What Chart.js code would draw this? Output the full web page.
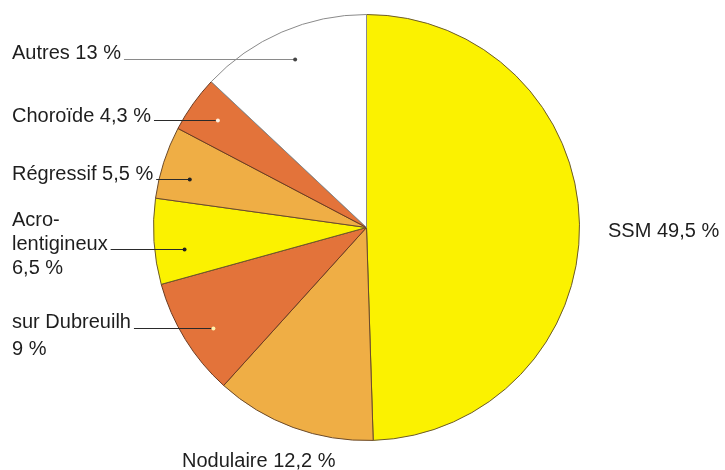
<!DOCTYPE html>
<html>
<head>
<meta charset="utf-8">
<script src="https://cdn.jsdelivr.net/npm/chart.js@4/dist/chart.umd.min.js"></script>
<style>
  html, body { margin: 0; padding: 0; background: #ffffff; }
  #wrap { width: 725px; height: 470px; position: relative; }
</style>
</head>
<body>
<div id="wrap"><canvas id="c" width="725" height="470"></canvas></div>
<script>
// Répartition des types de mélanome (%)
const categories = ['SSM', 'Nodulaire', 'sur Dubreuilh', 'Acro-lentigineux', 'Régressif', 'Choroïde', 'Autres'];
const shares = [49.5, 12.2, 9, 6.5, 5.5, 4.3, 13];
const shareLabels = ['49,5 %', '12,2 %', '9 %', '6,5 %', '5,5 %', '4,3 %', '13 %'];
const sliceColors = ['#fbf200', '#efae45', '#e3733a', '#fbf200', '#efae45', '#e3733a', '#ffffff'];

// Text blocks for each slice (lines drawn top to bottom)
const labelLines = [
  ['SSM ' + shareLabels[0]],
  ['Nodulaire ' + shareLabels[1]],
  ['sur Dubreuilh', shareLabels[2]],
  ['Acro-', 'lentigineux', shareLabels[3]],
  ['Régressif ' + shareLabels[4]],
  ['Choroïde ' + shareLabels[5]],
  ['Autres ' + shareLabels[6]]
];

// Label placement: text x, line baselines, which line carries the leader (null = none),
// where the leader dot sits along the slice (0 = slice start, 1 = slice end)
const labelPlacement = [
  { x: 608, baselines: [237], leaderLine: null },
  { x: 182, baselines: [467], leaderLine: null },
  { x: 12, baselines: [328, 355], leaderLine: 0, along: 0.45, dot: '#fff3b0', line: '#2a2a2a' },
  { x: 12, baselines: [226, 250, 274], leaderLine: 1, along: 0.375, dot: '#222222', line: '#2a2a2a' },
  { x: 12, baselines: [180], leaderLine: 0, along: 0.37, dot: '#222222', line: '#2a2a2a' },
  { x: 12, baselines: [121.5], leaderLine: 0, along: 0.52, dot: '#fff0e0', line: '#2a2a2a' },
  { x: 12, baselines: [58.5], leaderLine: 0, along: 0.51, dot: '#444444', line: '#8a8a8a' }
];

const labelPlugin = {
  id: 'leaderLabels',
  afterDatasetsDraw(chart) {
    const ctx = chart.ctx;
    const arcs = chart.getDatasetMeta(0).data;
    ctx.save();
    ctx.font = '20px "Liberation Sans", Arial, sans-serif';
    ctx.textBaseline = 'alphabetic';
    ctx.textAlign = 'left';
    arcs.forEach((arc, i) => {
      const p = labelPlacement[i];
      if (p.leaderLine !== null) {
        const ang = arc.startAngle + (arc.endAngle - arc.startAngle) * p.along;
        const r = arc.outerRadius * 0.86;
        const px = arc.x + Math.cos(ang) * r;
        const py = Math.round(arc.y + Math.sin(ang) * r) + 0.5;
        const from = p.x + ctx.measureText(labelLines[i][p.leaderLine]).width + 3;
        ctx.strokeStyle = p.line;
        ctx.lineWidth = 1.1;
        ctx.beginPath();
        ctx.moveTo(from, py);
        ctx.lineTo(px, py);
        ctx.stroke();
        ctx.fillStyle = p.dot;
        ctx.beginPath();
        ctx.arc(px, py, 2, 0, Math.PI * 2);
        ctx.fill();
      }
      ctx.fillStyle = '#1e1e1e';
      labelLines[i].forEach((t, k) => {
        ctx.fillText(t, p.x, p.baselines[k]);
      });
    });
    ctx.restore();
  }
};

new Chart(document.getElementById('c'), {
  type: 'pie',
  data: {
    labels: categories,
    datasets: [{
      data: shares,
      backgroundColor: sliceColors,
      borderColor: ['#6b5a2a', '#6b4a2a', '#6b3a20', '#6b5a2a', '#6b4a2a', '#6b3a20', '#8a8a8a'],
      borderWidth: 1,
      borderAlign: 'center'
    }]
  },
  options: {
    responsive: false,
    animation: false,
    rotation: 0,
    layout: { padding: { top: 14, bottom: 29, left: 8, right: 0 } },
    plugins: {
      legend: { display: false },
      tooltip: { enabled: false }
    }
  },
  plugins: [labelPlugin]
});
</script>
</body>
</html>
